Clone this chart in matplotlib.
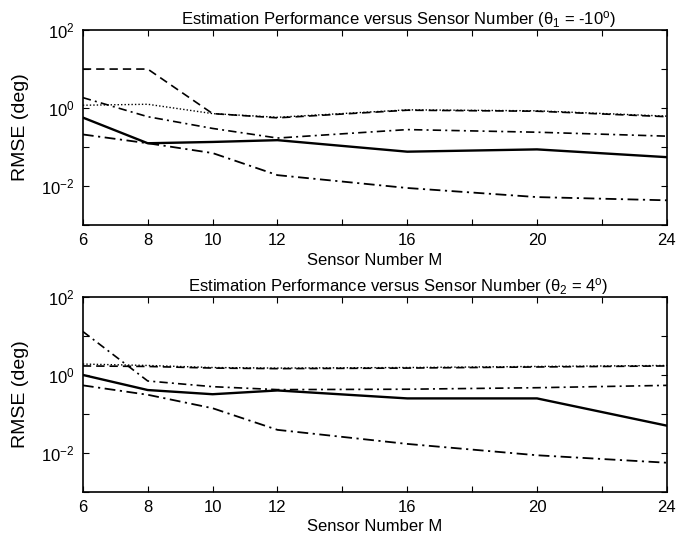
import numpy as np
import matplotlib
matplotlib.use("Agg")
import matplotlib.pyplot as plt
from matplotlib.ticker import FixedLocator, NullFormatter

plt.rcParams['font.family'] = ['Liberation Sans', 'DejaVu Sans']
plt.rcParams['mathtext.fontset'] = 'custom'
plt.rcParams['mathtext.rm'] = 'Liberation Sans'
plt.rcParams['mathtext.it'] = 'Liberation Sans:italic'

M = [6, 8, 10, 12, 16, 20, 24]
xtick_labels = ['6', '8', '10', '12', '16', '20', '24']

# theta1 = -10 deg
top_solid = [0.57, 0.125, 0.135, 0.15, 0.076, 0.087, 0.055]
top_dashed = [10.0, 10.0, 0.72, 0.56, 0.88, 0.83, 0.6]
top_dotted = [1.18, 1.25, 0.72, 0.58, 0.9, 0.85, 0.62]
top_dashdot = [1.85, 0.6, 0.3, 0.17, 0.28, 0.24, 0.19]
top_lower = [0.21, 0.125, 0.07, 0.019, 0.0089, 0.0052, 0.0043]

# theta2 = 4 deg
bot_solid = [1.0, 0.41, 0.32, 0.40, 0.25, 0.25, 0.05]
bot_dashed = [1.7, 1.65, 1.5, 1.45, 1.5, 1.6, 1.7]
bot_dotted = [1.9, 1.75, 1.55, 1.5, 1.55, 1.65, 1.75]
bot_dashdot = [13.0, 0.7, 0.5, 0.42, 0.43, 0.47, 0.54]
bot_lower = [0.54, 0.31, 0.14, 0.039, 0.017, 0.0087, 0.0056]

titles = ['Estimation Performance versus Sensor Number (θ$_1$ = -10$^{\\rm o}$)',
          'Estimation Performance versus Sensor Number (θ$_2$ = 4$^{\\rm o}$)']

fig = plt.figure(figsize=(6.79, 5.37), dpi=100)
ax1 = fig.add_axes([0.122, 0.581, 0.860, 0.363])
ax2 = fig.add_axes([0.122, 0.084, 0.860, 0.363])

sets = [(ax1, top_solid, top_dashed, top_dotted, top_dashdot, top_lower),
        (ax2, bot_solid, bot_dashed, bot_dotted, bot_dashdot, bot_lower)]

for i, (ax, s, d, dt, dd, lw) in enumerate(sets):
    ax.plot(M, s, color='black', lw=1.7, ls='-')
    ax.plot(M, d, color='black', lw=1.2, ls=(0, (5, 3)))
    ax.plot(M, dt, color='black', lw=1.0, ls=(0, (1, 1.5)))
    ax.plot(M, dd, color='black', lw=1.2, ls=(0, (5, 2.5, 1.2, 2.5)))
    ax.plot(M, lw, color='black', lw=1.3, ls=(0, (6, 2.5, 1.2, 2.5)))
    ax.set_yscale('log')
    ax.set_xlim(6, 24)
    ax.set_ylim(1e-3, 1e2)
    ax.set_xticks(np.arange(6, 25, 2))
    ax.set_xticklabels([str(v) if str(v) in xtick_labels else '' for v in range(6, 25, 2)])
    ax.yaxis.set_major_locator(FixedLocator([1e-2, 1e0, 1e2]))
    ax.yaxis.set_minor_locator(FixedLocator([1e-3, 1e-1, 1e1]))
    ax.yaxis.set_minor_formatter(NullFormatter())
    ax.tick_params(which='both', direction='in', top=True, right=True, labelsize=12,
                   length=4, width=0.8, pad=6)
    for sp in ax.spines.values():
        sp.set_linewidth(1.2)
    ax.set_xlabel('Sensor Number M', fontsize=12, labelpad=3)
    ax.set_ylabel('RMSE (deg)', fontsize=14, labelpad=9)
    ax.set_title(titles[i], fontsize=12, pad=4, x=0.54)

fig.savefig('out.png', dpi=100)
